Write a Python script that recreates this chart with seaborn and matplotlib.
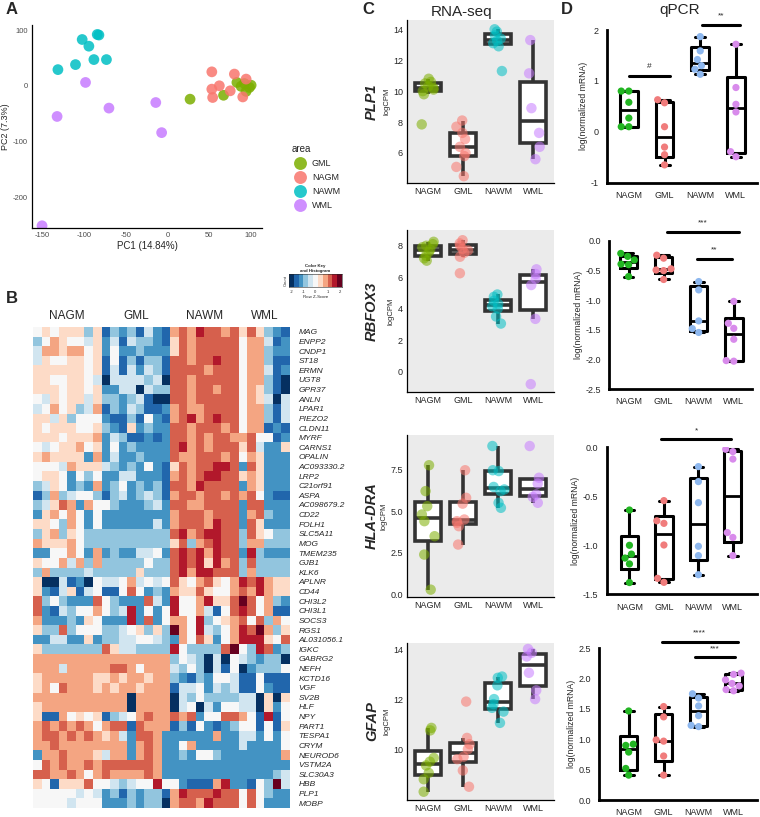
import numpy as np
import pandas as pd
import matplotlib
matplotlib.use("Agg")
import matplotlib.pyplot as plt
import seaborn as sns
from matplotlib.colors import ListedColormap

sns.set_style("white")
plt.rcParams['font.family'] = ['Liberation Sans', 'DejaVu Sans']
plt.rcParams['axes.unicode_minus'] = False

groups = ['NAGM', 'GML', 'NAWM', 'WML']

# ---------------- A: PCA ----------------
pca_area = ['GML'] * 8 + ['NAGM'] * 8 + ['NAWM'] * 8 + ['WML'] * 6
pca_pc1 = [27, 67, 83, 92, 98, 94, 88, 100,
           53, 80, 94, 53, 62, 54, 75, 90,
           -131, -110, -102, -94, -84, -82, -88, -73,
           -98, -132, -70, -14, -7, -150]
pca_pc2 = [-24, -17, 6, 4, -3, -10, -1, 1,
           25, 21, 12, -6, 0, -21, -9, -20,
           29, 38, 83, 71, 92, 91, 47, 47,
           6, -55, -40, -30, -84, -251]
pca_colors = {'GML': '#7CAE00', 'NAGM': '#F8766D', 'NAWM': '#00BFC4', 'WML': '#C77CFF'}

# ---------------- B: heatmap (row z-scores, 11 levels a..k, f = 0) ----------------
genes = ['MAG', 'ENPP2', 'CNDP1', 'ST18', 'ERMN', 'UGT8', 'GPR37', 'ANLN', 'LPAR1', 'PIEZO2',
         'CLDN11', 'MYRF', 'CARNS1', 'OPALIN', 'AC093330.2', 'LRP2', 'C21orf91', 'ASPA',
         'AC098679.2', 'CD22', 'FOLH1', 'SLC5A11', 'MOG', 'TMEM235', 'GJB1', 'KLK6',
         'APLNR', 'CD44', 'CHI3L2', 'CHI3L1', 'SOCS3', 'RGS1', 'AL031056.1', 'IGKC',
         'GABRG2', 'NEFH', 'KCTD16', 'VGF', 'SV2B', 'HLF', 'NPY', 'PART1', 'TESPA1', 'CRYM',
         'NEUROD6', 'VSTM2A', 'SLC30A3', 'HBB', 'PLP1', 'MOBP']
heat_rows = [
    "fgfgggdg bdcdbecb hihjiihi gigdcb",
    "dfhgffeg cebeddcb gihiiiii fhhebc",
    "ehhghhfg cfccdccc gihiiiii fhhdcc",
    "egffggfg bfbdbddb iihiijii fhhdbb",
    "ggggggfg bebecedb iiiihiii fhhebc",
    "ggffggfe aeeeedea iihiiiii fhhdba",
    "gggfggfg cceeaedd iihiihii fhgdba",
    "fegfggeg ddcdebaa iihiiiii fhgeae",
    "efhfgdeh bdcedbbc hihhiiii fhhdbe",
    "ggegdfff cbbdbfcb hijhijii fhhdbe",
    "gfgggffg dcbgcdcc iihiiihi fhhbcb",
    "gggfgggh cedbbcbc iihihiih hiffbc",
    "fefgghfg cfcdcccc ijhihiii gieccg",
    "ghggggch ceccdccc ihhiiihi fhgccc",
    "fffehggg edcdcfcb gihiijji cigccc",
    "fggfcfdf cceecccb hihijjii ghgccc",
    "degfcdch cdfcdcdb iihjiiii chgccc",
    "bdhdeffd bdecdedb hiihiihi hifcbb",
    "degihchf fdcccdec iihhiiii ciiccc",
    "cghfhfcf cccccccc hiiihiii chidcc",
    "ggfdhfcf ccccccec hiiihjii cigccc",
    "dghdgfdd dddddddd ijhijjii digfdd",
    "hggghfdd dddddddd gidhijii dhhddd",
    "ccffhfch cdcceefc ijijhjii cjdccc",
    "gffhehdh dddddfdd ijijgjhi didddd",
    "dhdddded ddddgddd ijhjjiii dhdddd",
    "gaaebcaf eefhefef igfhigfh jijhgg",
    "gcbegbef bbfifcdc hggigffh ihjhgg",
    "idfdccci fdccciec jffhjggi kifhdc",
    "icbedffh fdejcfcf jffhebfi jifhbb",
    "hcccdcgf cccjcicf hhfjdfgh ifidhf",
    "gddidfff ddefgdgd khfjedfh jikhdg",
    "cceeccgc ddeeffed chfigcfh jjjgfi",
    "gddddddd igeedddd jfddddik fdjicd",
    "hhhhhhhh hhhhhhhh dfedaeaf edcdda",
    "hhhehhhh hiihfhhh edfdaebf acdddf",
    "ghhhhhhg ghghhghh dcbdcffe bbfbbb",
    "ghfihhhg hghhghhh beefcede bbfcbb",
    "hhhhhhhh hhhahhhh aedfdddd eeagag",
    "ghhhhhhh hhhahhhh aefaecff eeagcf",
    "gbbhfgfg bdefhihh ihicffii hfbjbf",
    "hihihihf hiibihhh bdbfcbcd ffbfbg",
    "hiihihih gheciihc ccccchcc eecfcf",
    "hhihhhhh hhhchihc cfhccccc eccccf",
    "chhihhhg ehhchihc cdcffdcc ccccch",
    "fihihhih iiiiiihc cccccccc cccccc",
    "iihhihfh ihhhhihc cccccccc ccccde",
    "gfbgggif fedeffjf fcbbbhjc cbfdke",
    "fffffefe cdbdcddb hjiiijii fifdcc",
    "ffffefff cccdcdda hiihjiii fifccc",
]
rdbu11 = ['#053061', '#2166ac', '#4393c3', '#92c5de', '#d1e5f0', '#f7f7f7',
          '#fddbc7', '#f4a582', '#d6604d', '#b2182b', '#67001f']

# ---------------- C: RNA-seq logCPM ----------------
c_plp1 = {'NAGM': [10.8, 10.6, 10.5, 10.3, 10.2, 10.1, 10.0, 9.8, 7.85],
          'GML': [8.1, 7.7, 7.3, 6.9, 6.4, 6.0, 5.8, 5.1, 4.5],
          'NAWM': [14.0, 13.85, 13.6, 13.4, 13.25, 13.1, 12.9, 11.3],
          'WML': [13.3, 11.15, 8.9, 7.3, 6.4, 5.6]}
c_rbfox3 = {'NAGM': [8.25, 8.1, 8.0, 7.9, 7.75, 7.6, 7.35, 7.2, 7.05],
            'GML': [8.35, 8.15, 8.0, 7.8, 7.7, 7.55, 7.3, 6.25],
            'NAWM': [4.9, 4.75, 4.5, 4.3, 4.15, 4.0, 3.5, 3.05],
            'WML': [6.5, 6.2, 5.9, 5.5, 3.35, -0.8]}
c_hla = {'NAGM': [7.75, 6.2, 5.3, 4.8, 4.4, 3.5, 2.4, 0.3],
         'GML': [7.45, 5.8, 5.45, 4.5, 4.4, 4.3, 4.1, 3.0],
         'NAWM': [8.9, 7.45, 7.4, 6.45, 6.3, 6.2, 5.5, 5.2],
         'WML': [8.9, 7.0, 6.65, 6.0, 5.85, 5.5]}
c_gfap = {'NAGM': [10.85, 10.75, 9.65, 9.5, 9.35, 9.05, 8.8, 8.3],
          'GML': [11.9, 10.45, 10.2, 10.0, 9.7, 9.6, 9.15, 8.5],
          'NAWM': [12.9, 12.85, 12.55, 12.0, 11.8, 11.65, 11.5, 11.05],
          'WML': [14.0, 13.85, 13.7, 13.05, 12.35, 12.0]}
c_colors = {'NAGM': '#7CAE00', 'GML': '#F8766D', 'NAWM': '#00BFC4', 'WML': '#C77CFF'}

# ---------------- D: qPCR log(normalized mRNA) ----------------
d_plp1 = {'NAGM': [0.8, 0.8, 0.58, 0.27, 0.1, 0.1],
          'GML': [0.63, 0.57, 0.1, -0.3, -0.45, -0.65],
          'NAWM': [1.87, 1.59, 1.42, 1.30, 1.23, 1.13],
          'WML': [1.72, 0.87, 0.54, 0.39, -0.39, -0.49]}
d_rbfox3 = {'NAGM': [-0.21, -0.26, -0.32, -0.39, -0.40, -0.60],
            'GML': [-0.24, -0.29, -0.47, -0.49, -0.50, -0.65],
            'NAWM': [-0.685, -0.826, -1.35, -1.48, -1.545],
            'WML': [-1.02, -1.39, -1.475, -1.66, -2.02, -2.03]}
d_hla = {'NAGM': [-0.64, -1.0, -1.09, -1.13, -1.19, -1.38],
         'GML': [-0.544, -0.75, -0.776, -0.997, -1.337, -1.378],
         'NAWM': [-0.197, -0.35, -0.565, -1.01, -1.105, -1.3],
         'WML': [-0.02, -0.044, -0.12, -0.87, -0.92, -1.105]}
d_gfap = {'NAGM': [1.467, 0.92, 0.9, 0.79, 0.52, 0.41],
          'GML': [1.54, 1.37, 0.99, 0.97, 0.725, 0.41],
          'NAWM': [1.75, 1.68, 1.55, 1.39, 1.23, 1.21],
          'WML': [2.09, 2.07, 1.98, 1.92, 1.88, 1.82, 1.80]}
d_colors = {'NAGM': '#22B522', 'GML': '#F07C7C', 'NAWM': '#8DB7EE', 'WML': '#D88BEB'}

# significance bars: (from, to, height, label)
d_sig = [[(0.0, 1.15, 1.1, '#'), (2.05, 3.1, 2.1, '**')],
         [(1.1, 3.15, 0.16, '***'), (1.95, 2.95, -0.3, '**')],
         [(0.92, 2.95, 0.08, '*')],
         [(0.95, 3.12, 2.61, '****'), (1.9, 3.05, 2.35, '***')]]

W, H = 760, 817
fig = plt.figure(figsize=(W / 100, H / 100), dpi=100)


def px_axes(x0, y0, x1, y1):
    return fig.add_axes([x0 / W, 1 - y1 / H, (x1 - x0) / W, (y1 - y0) / H])


def to_long(d):
    return pd.DataFrame([(g, v) for g in groups for v in d[g]], columns=['group', 'value'])


# ----- A -----
axA = px_axes(32, 25, 262, 228)
pca = pd.DataFrame({'PC1': pca_pc1, 'PC2': pca_pc2, 'area': pca_area})
sns.scatterplot(data=pca, x='PC1', y='PC2', hue='area', hue_order=['GML', 'NAGM', 'NAWM', 'WML'],
                palette=pca_colors, s=60, alpha=0.85, linewidth=0, ax=axA)
axA.set_xlim(-162, 113)
axA.set_ylim(-255, 109)
axA.set_xticks([-150, -100, -50, 0, 50, 100])
axA.set_yticks([-200, -100, 0, 100])
axA.tick_params(labelsize=5.5, labelcolor='#4d4d4d', length=2, color='#333333', width=0.6, pad=1)
axA.set_xlabel('PC1 (14.84%)', fontsize=7, labelpad=1)
axA.set_ylabel('PC2 (7.3%)', fontsize=6.5, labelpad=0)
axA.yaxis.set_label_coords(-0.095, 0.5)
for s in ['top', 'right']:
    axA.spines[s].set_visible(False)
for s in ['left', 'bottom']:
    axA.spines[s].set_color('black')
    axA.spines[s].set_linewidth(0.9)
leg = axA.legend(title='area', loc='upper left', bbox_to_anchor=(283 / W, 1 - 136 / H),
                 bbox_transform=fig.transFigure, frameon=False, fontsize=6.5, title_fontsize=7,
                 markerscale=1.2, handletextpad=0.3, labelspacing=0.55)
leg._legend_box.align = 'left'

# ----- B -----
axB = px_axes(33, 327, 290, 808)
mat = np.array([[(ord(c) - ord('f')) * 0.4 for c in r.replace(' ', '')] for r in heat_rows])
heat = pd.DataFrame(mat, index=genes)
cmap = ListedColormap(rdbu11)
sns.heatmap(heat, cmap=cmap, vmin=-2.2, vmax=2.2, cbar=False, ax=axB,
            xticklabels=False, yticklabels=genes)
axB.yaxis.tick_right()
axB.tick_params(axis='y', length=0, pad=6)
for t in axB.get_yticklabels():
    t.set_fontsize(6)
    t.set_fontstyle('italic')
    t.set_rotation(0)
axB.set_ylabel('')
centers = [4, 12, 20, 27]
for c, g in zip(centers, groups):
    axB.text(c, -0.5, g, ha='center', va='bottom', fontsize=8.5)

# color key
axK = px_axes(289, 274, 342, 287)
axK.imshow(np.linspace(-2, 2, 11)[None, :], cmap=cmap, vmin=-2.2, vmax=2.2,
           aspect='auto', extent=[-2.2, 2.2, 0, 1])
axK.set_xticks([-2, -1, 0, 1, 2])
axK.set_yticks([])
axK.tick_params(labelsize=3, length=1, pad=1, width=0.4)
axK.set_xlabel('Row Z-Score', fontsize=3.2, labelpad=1)
axK.set_ylabel('Count', fontsize=3, labelpad=1)
axK.set_title('Color Key\nand Histogram', fontsize=3.2, fontweight='bold', pad=1.5)
for s in axK.spines.values():
    s.set_linewidth(0.4)

# ----- C -----
c_sets = [('PLP1', c_plp1, (4.06, 14.6), [6, 8, 10, 12, 14], ['6', '8', '10', '12', '14']),
          ('RBFOX3', c_rbfox3, (-1.3, 9.0), [0, 2, 4, 6, 8], ['0', '2', '4', '6', '8']),
          ('HLA-DRA', c_hla, (-0.14, 9.56), [0, 2.5, 5, 7.5], ['0.0', '2.5', '5.0', '7.5']),
          ('GFAP', c_gfap, (7.97, 14.24), [10, 12, 14], ['10', '12', '14'])]
c_boxes = [(20, 183), (230, 392), (435, 597), (643, 800)]
np.random.seed(3)
for (gene, data, ylim, yt, ytl), (y0, y1) in zip(c_sets, c_boxes):
    ax = px_axes(407, y0, 554, y1)
    ax.set_facecolor('#EBEBEB')
    df = to_long(data)
    sns.boxplot(data=df, x='group', y='value', order=groups, color='white', linecolor='#333333',
                linewidth=2.6, width=0.75, showfliers=False, showcaps=False, ax=ax)
    sns.stripplot(data=df, x='group', y='value', order=groups, hue='group', palette=c_colors,
                  jitter=0.2, alpha=0.55, size=7.5, linewidth=0, legend=False, ax=ax)
    ax.set_xlim(-0.6, 3.6)
    ax.set_ylim(*ylim)
    ax.set_yticks(yt)
    ax.set_yticklabels(ytl)
    ax.tick_params(axis='y', labelsize=6.5, length=2, width=0.6, color='#333333', pad=1)
    ax.tick_params(axis='x', labelsize=6.5, length=0, pad=3)
    ax.set_xlabel('')
    ax.set_ylabel('logCPM', fontsize=5.5, labelpad=2)
    for s in ['top', 'right']:
        ax.spines[s].set_visible(False)
    for s in ['left', 'bottom']:
        ax.spines[s].set_color('black')
        ax.spines[s].set_linewidth(0.9)
    fig.text(372 / W, 1 - ((y0 + y1) / 2) / H, gene, rotation=90, ha='center', va='center',
             fontsize=10.5, fontweight='bold', fontstyle='italic')

fig.text(462 / W, 1 - 12 / H, 'RNA-seq', ha='center', va='center', fontsize=11)
fig.text(680 / W, 1 - 10 / H, 'qPCR', ha='center', va='center', fontsize=11)


# ----- D -----
def prism_stats(v):
    v = np.asarray(v, dtype=float)
    q1, med, q3 = np.percentile(v, [25, 50, 75], method='weibull')
    return dict(med=med, q1=q1, q3=q3, whislo=v.min(), whishi=v.max(), fliers=[])


d_sets = [(d_plp1, (-1, 2), [-1, 0, 1, 2], ['-1', '0', '1', '2'], (606.7, 30, 757, 182.7), (-0.62, 3.59)),
          (d_rbfox3, (-2.5, 0), [-2.5, -2.0, -1.5, -1.0, -0.5, 0.0],
           ['-2.5', '-2.0', '-1.5', '-1.0', '-0.5', '0.0'], (609.3, 241, 752, 389), (-0.55, 3.52)),
          (d_hla, (-1.5, 0), [-1.5, -1.0, -0.5, 0.0], ['-1.5', '-1.0', '-0.5', '0.0'],
           (606.7, 447.3, 757, 594.3), (-0.66, 3.7)),
          (d_gfap, (0, 2.5), [0, 0.5, 1.0, 1.5, 2.0, 2.5], ['0.0', '0.5', '1.0', '1.5', '2.0', '2.5'],
           (599.3, 648.3, 757, 800), (-0.84, 3.67))]
for (data, ylim, yt, ytl, box, xlim), sig in zip(d_sets, d_sig):
    ax = px_axes(*box)
    ax.bxp([prism_stats(data[g]) for g in groups], positions=range(4), widths=0.5,
           showfliers=False, capwidths=0.28, manage_ticks=False,
           boxprops=dict(color='black', linewidth=2.2),
           whiskerprops=dict(color='black', linewidth=2.2),
           capprops=dict(color='black', linewidth=2.2),
           medianprops=dict(color='black', linewidth=2.0))
    df = to_long(data)
    sns.swarmplot(data=df, x='group', y='value', order=groups, hue='group', palette=d_colors,
                  size=5.2, linewidth=0, legend=False, ax=ax, zorder=5)
    ax.set_xlim(*xlim)
    ax.set_ylim(*ylim)
    ax.set_yticks(yt)
    ax.set_yticklabels(ytl)
    ax.set_xticks(range(4))
    ax.set_xticklabels(groups)
    ax.tick_params(labelsize=6.5, length=4, width=1.6, color='black', direction='out', pad=2)
    ax.set_xlabel('')
    ax.set_ylabel('log(normalized mRNA)', fontsize=6.2, labelpad=2)
    for s in ['top', 'right']:
        ax.spines[s].set_visible(False)
    for s in ['left', 'bottom']:
        ax.spines[s].set_linewidth(2)
        ax.spines[s].set_color('black')
    span = ylim[1] - ylim[0]
    for x0, x1, yb, lab in sig:
        ax.plot([x0, x1], [yb, yb], color='black', lw=2.2, clip_on=False)
        ax.text((x0 + x1) / 2, yb + span * 0.035, lab, ha='center', va='bottom', fontsize=6)

# panel letters
for lab, x, y in [('A', 12, 10), ('B', 12, 298), ('C', 368, 10), ('D', 567, 10)]:
    fig.text(x / W, 1 - y / H, lab, fontsize=12, fontweight='bold', ha='center', va='center')

fig.savefig('out.png', dpi=100)
